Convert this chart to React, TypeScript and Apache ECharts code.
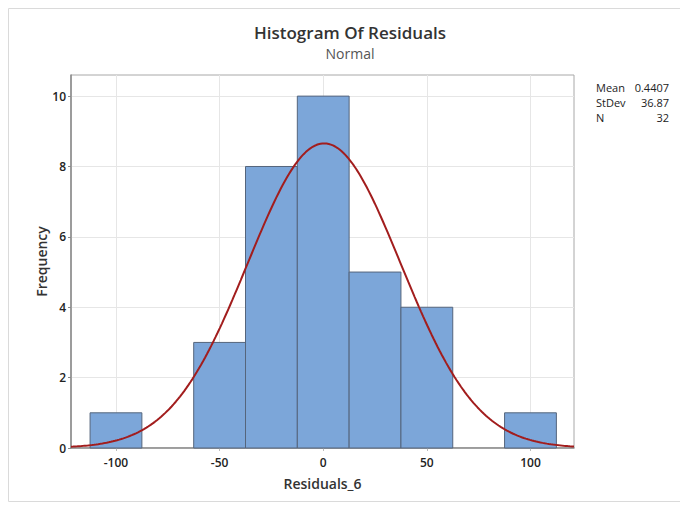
import React, { useEffect, useRef } from "react";
import * as echarts from "echarts";

// Histogram bins (lower edge of each 25-wide bin) and counts
const binStarts = [-112.5, -87.5, -62.5, -37.5, -12.5, 12.5, 37.5, 62.5, 87.5];
const counts = [1, 0, 3, 8, 10, 5, 4, 0, 1];
const binWidth = 25;

// Fitted normal distribution summary
const fitMean = 0.4407;
const fitStDev = 36.87;
const fitN = 32;

const xTicks = [-100, -50, 0, 50, 100];
const yTicks = [0, 2, 4, 6, 8, 10];
const xMin = -121.7;
const xMax = 121;
const yMax = 10.6;

const statLabels = ["Mean", "StDev", "N"];
const statValues = ["0.4407", "36.87", "32"];

// Expected frequency curve for the normal fit, scaled to bin width and N
function normalCurve(): number[][] {
  const pts: number[][] = [];
  const steps = 240;
  const scale = (fitN * binWidth) / (fitStDev * Math.sqrt(2 * Math.PI));
  for (let i = 0; i <= steps; i++) {
    const x = xMin + ((xMax - xMin) * i) / steps;
    const z = (x - fitMean) / fitStDev;
    pts.push([x, scale * Math.exp(-0.5 * z * z)]);
  }
  return pts;
}

const FONT = "'Open Sans', 'Noto Sans', sans-serif";

export default function App() {
  const ref = useRef<HTMLDivElement>(null);

  useEffect(() => {
    if (!ref.current) return;
    const chart = echarts.init(ref.current, null, { renderer: "svg" });

    const barData = binStarts.map((s, i) => [s, s + binWidth, counts[i]]);

    const statsGraphics: any[] = [];
    statLabels.forEach((lab, i) => {
      statsGraphics.push({
        type: "text",
        left: 596,
        top: 82 + i * 15,
        style: { text: lab, font: `11px ${FONT}`, fill: "#222" },
      });
      statsGraphics.push({
        type: "text",
        right: 11,
        top: 82 + i * 15,
        style: { text: statValues[i], font: `11px ${FONT}`, fill: "#222", textAlign: "right" },
      });
    });

    chart.setOption({
      animation: false,
      backgroundColor: "#ffffff",
      title: {
        text: "Histogram Of Residuals",
        subtext: "Normal",
        left: 345,
        top: 19,
        textAlign: "center",
        itemGap: 5,
        textStyle: { fontFamily: FONT, fontSize: 17, fontWeight: 600, color: "#333" },
        subtextStyle: { fontFamily: FONT, fontSize: 14, color: "#555" },
      },
      grid: {
        left: 71,
        right: 106,
        top: 75,
        bottom: 58,
        show: true,
        borderColor: "#a8a8a8",
        borderWidth: 1,
      },
      xAxis: {
        type: "value",
        min: xMin,
        max: xMax,
        name: "Residuals_6",
        nameLocation: "middle",
        nameGap: 28,
        nameMoveOverlap: false,
        nameTextStyle: { fontFamily: FONT, fontSize: 14, fontWeight: 600, color: "#333" },
        axisLine: { show: true, onZero: false, lineStyle: { color: "#8a8a8a", width: 1.5 } },
        axisTick: { show: true, length: 3, customValues: xTicks, lineStyle: { color: "#bbb" } },
        axisLabel: {
          customValues: xTicks,
          fontFamily: FONT,
          fontSize: 12,
          fontWeight: 600,
          color: "#222",
          margin: 8,
        },
        splitLine: { show: true, lineStyle: { color: "#e6e6e6", width: 1 } },
      },
      yAxis: {
        type: "value",
        min: 0,
        max: yMax,
        name: "Frequency",
        nameLocation: "middle",
        nameGap: 23,
        nameMoveOverlap: false,
        nameTextStyle: { fontFamily: FONT, fontSize: 14, fontWeight: 600, color: "#333" },
        axisLine: { show: true, onZero: false, lineStyle: { color: "#8a8a8a", width: 1.5 } },
        axisTick: { show: true, length: 3, customValues: yTicks, lineStyle: { color: "#8a8a8a" } },
        axisLabel: {
          customValues: yTicks,
          fontFamily: FONT,
          fontSize: 12,
          fontWeight: 600,
          color: "#222",
          margin: 5,
        },
        splitLine: { show: true, lineStyle: { color: "#e6e6e6", width: 1 } },
      },
      series: [
        {
          type: "custom",
          data: barData,
          encode: { x: [0, 1], y: 2 },
          renderItem: (params: any, api: any) => {
            const lo = api.value(0);
            const hi = api.value(1);
            const c = api.value(2);
            if (!c) return null;
            const p0 = api.coord([lo, c]);
            const p1 = api.coord([hi, 0]);
            return {
              type: "rect",
              shape: { x: p0[0], y: p0[1], width: p1[0] - p0[0], height: p1[1] - p0[1] },
              style: { fill: "#7ca6d9", stroke: "#55657c", lineWidth: 1 },
            };
          },
          z: 2,
        },
        {
          type: "line",
          data: normalCurve(),
          showSymbol: false,
          symbol: "none",
          lineStyle: { color: "#a21d1d", width: 2 },
          z: 3,
        },
      ],
      graphic: [
        { type: "line", shape: { x1: 8.5, y1: 8.5, x2: 680, y2: 8.5 }, style: { stroke: "#dadada", lineWidth: 1 } },
        { type: "line", shape: { x1: 8.5, y1: 8.5, x2: 8.5, y2: 501.5 }, style: { stroke: "#dadada", lineWidth: 1 } },
        { type: "line", shape: { x1: 8.5, y1: 501.5, x2: 680, y2: 501.5 }, style: { stroke: "#dadada", lineWidth: 1 } },
        ...statsGraphics,
      ],
    });

    return () => chart.dispose();
  }, []);

  return (
    <div
      ref={ref}
      style={{ position: "fixed", left: 0, top: 0, width: 680, height: 506 }}
    />
  );
}
